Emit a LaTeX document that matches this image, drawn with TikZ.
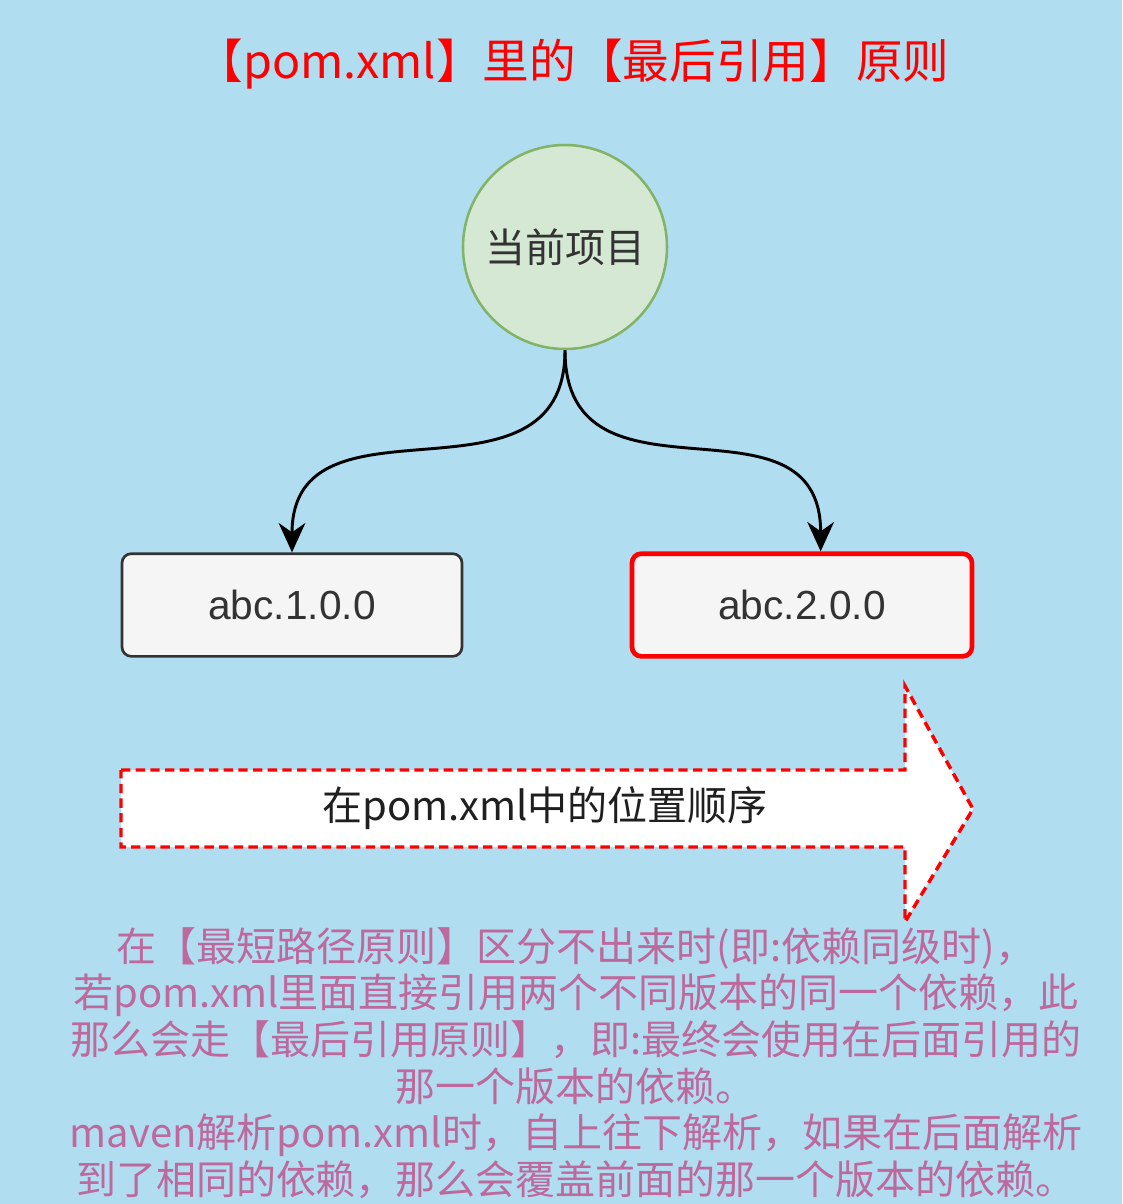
\documentclass[tikz,border=0pt]{standalone}
\usepackage{fontspec}
\setmainfont{Noto Sans CJK SC}
\newfontfamily\latinfont{Liberation Sans}
\usepackage{tikz}
\usetikzlibrary{arrows.meta,positioning}
\definecolor{sky}{RGB}{177,221,240}
\definecolor{leaf}{RGB}{213,232,212}
\definecolor{leafline}{RGB}{130,179,102}
\definecolor{paper}{RGB}{245,245,245}
\definecolor{ink}{RGB}{51,51,51}
\definecolor{signal}{RGB}{255,0,0}
\definecolor{rose}{RGB}{190,105,158}
\tikzset{
  >={Stealth[length=22pt,width=20pt,inset=7pt]},
  project/.style={circle,draw=leafline,fill=leaf,line width=1.9pt,minimum size=153pt,
    inner sep=0pt,font=\fontsize{30}{36}\selectfont,text=ink},
  version/.style={draw=#1,fill=paper,rounded corners=7pt,line width=2pt,
    minimum width=255pt,minimum height=77pt,font=\latinfont\fontsize{30.5}{36}\selectfont,text=ink},
  version/.default=ink,
  link/.style={->,line width=2.2pt,draw=black},
  order/.style={draw=signal,fill=white,line width=2.6pt,dash pattern=on 7pt off 4pt},
  headline/.style={text=signal,font=\fontsize{35}{42}\selectfont,inner sep=0pt},
  note/.style={text=rose,align=center,inner sep=0pt,font=\fontsize{30}{35}\selectfont},
}

\begin{document}
\begin{tikzpicture}[x=0.75pt,y=-0.75pt]
  \useasboundingbox (0,0) rectangle (1122,1204);
  \fill[sky] (0,0) rectangle (1122,1204);

  \node[headline] (title) at (573,64) {【pom.xml】里的【最后引用】原则};

  \node[project] (cur) at (565,247) {当前项目};
  \node[version] (v1) at (292,605) {abc.1.0.0};
  \node[version=signal,line width=3.5pt] (v2) at (802,605) {abc.2.0.0};

  \draw[link] (cur.south) .. controls +(0,170) and +(0,-170) .. (v1.north);
  \draw[link] (cur.south) .. controls +(0,170) and +(0,-170) .. ([xshift=14pt]v2.north);

  % order arrow
  \draw[order] (121,770) -- (905,770) -- (905,686) -- (973,809) -- (905,922) -- (905,847) -- (121,847) -- cycle;
  \node[font=\fontsize{30}{36}\selectfont,text=ink!60!black,inner sep=0pt] (seq) at (545,808) {在pom.xml中的位置顺序};

  \node[note] (rule) at (576,1063) {在【最短路径原则】区分不出来时(即:依赖同级时)，\\
    若pom.xml里面直接引用两个不同版本的同一个依赖，此\\
    那么会走【最后引用原则】，即:最终会使用在后面引用的\\
    那一个版本的依赖。\\
    maven解析pom.xml时，自上往下解析，如果在后面解析\\
    到了相同的依赖，那么会覆盖前面的那一个版本的依赖。};
\end{tikzpicture}
\end{document}
